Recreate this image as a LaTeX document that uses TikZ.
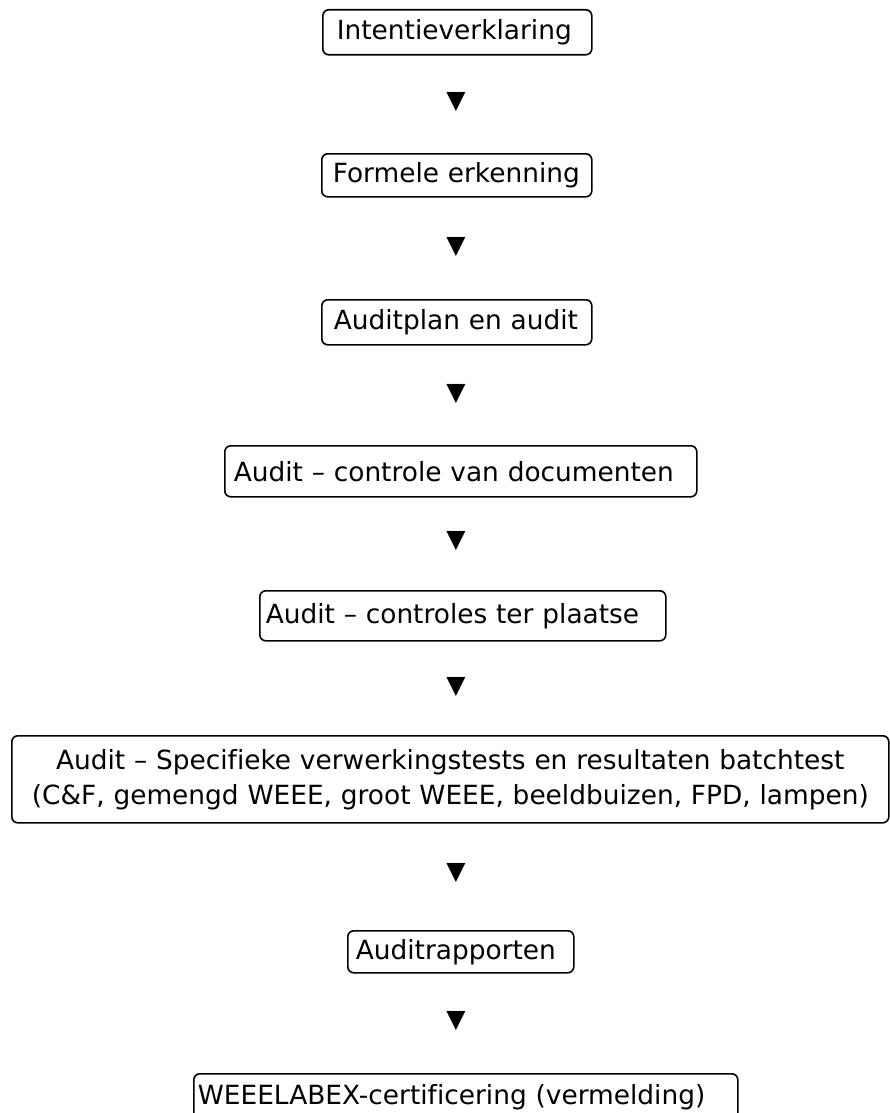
\documentclass[tikz,border=0pt]{standalone}
\usepackage{fontspec}
\setmainfont{DejaVu Sans}[Ligatures=NoCommon]
\begin{document}
\begin{tikzpicture}[x=1pt,y=-1pt,
  box/.style={draw=black, line width=1.6pt, rounded corners=6pt, align=left,
    font=\fontsize{26.4}{35}\selectfont, inner ysep=0pt, anchor=north west},
  tri/.style={font=\fontsize{25}{30}\selectfont, inner sep=0pt}]
\useasboundingbox (0,0) rectangle (890,1113);
\node[box, minimum width=269pt, minimum height=45pt, inner xsep=14pt, text width=241pt] (b1) at (322,9) {Intentieverklaring};
\node[box, minimum width=270pt, minimum height=43pt, inner xsep=11pt, text width=248pt] (b2) at (321,153) {Formele erkenning};
\node[box, minimum width=270pt, minimum height=45pt, inner xsep=12pt, text width=246pt] (b3) at (321,299) {Auditplan en audit};
\node[box, minimum width=472pt, minimum height=51pt, inner xsep=9pt, text width=454pt] (b4) at (224,445) {Audit – controle van documenten};
\node[box, minimum width=406pt, minimum height=50pt, inner xsep=6pt, text width=394pt] (b5) at (259,590) {Audit – controles ter plaatse};
\node[box, minimum width=877pt, minimum height=87pt, inner xsep=2pt, text width=873pt, align=center] (b6) at (11,735) {Audit – Specifieke verwerkingstests en resultaten batchtest\\(C\&F, gemengd WEEE, groot WEEE, beeldbuizen, FPD, lampen)};
\node[box, minimum width=226pt, minimum height=42pt, inner xsep=8pt, text width=210pt] (b7) at (347,930) {Auditrapporten};
\node[box, minimum width=544pt, minimum height=46pt, inner xsep=4pt, text width=536pt] (b8) at (193,1073) {WEEELABEX-certificering (vermelding)};
\node[tri] (t1) at (456,102) {▼};
\node[tri] (t2) at (456,247) {▼};
\node[tri] (t3) at (456,394) {▼};
\node[tri] (t4) at (456,541) {▼};
\node[tri] (t5) at (456,687) {▼};
\node[tri] (t6) at (456,873) {▼};
\node[tri] (t7) at (456,1021) {▼};
\end{tikzpicture}
\end{document}
